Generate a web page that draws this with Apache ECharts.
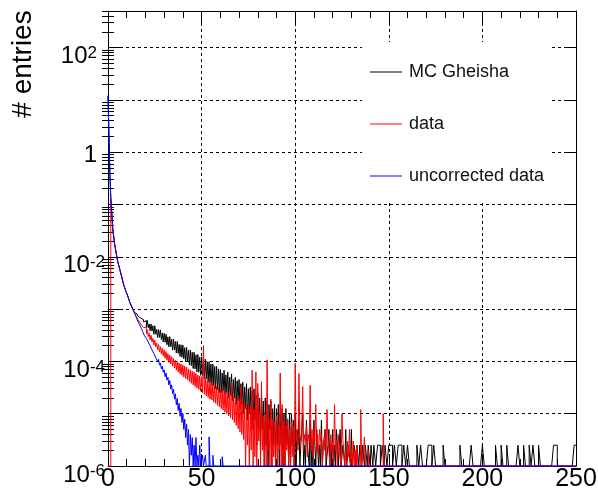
<!DOCTYPE html>
<html>
<head>
<meta charset="utf-8">
<script src="https://cdn.jsdelivr.net/npm/echarts@6/dist/echarts.min.js"></script>
<style>html,body{margin:0;padding:0;background:#fff}#c{width:598px;height:497px}</style>
</head>
<body>
<div id="c"></div>
<script>
// ---- binning ----
const FINE_BIN = 0.5;     // bins of width 0.5 from 0 to 150
const COARSE_START = 150; // bins of width 1 from 150 to 250
const COARSE_BIN = 1;
const X_END = 250;
const Y_MIN = 1e-6, Y_MAX = 500;

// ---- series values per bin (0 = empty bin, drawn on the axis floor) ----
// MC Gheisha, 0..150 in 0.5 bins
const mcFine = [12, 12, 0.4, 0.13, 0.07, 0.035, 0.025, 0.018, 0.014, 0.011,
  0.0087, 0.0074, 0.0063, 0.0054, 0.0046, 0.0039, 0.0033, 0.0028, 0.0025, 0.0022,
  0.002, 0.0018, 0.0016, 0.0014, 0.00126, 0.00115, 0.00105, 0.00096, 0.00087, 0.00086,
  0.00081, 0.0008, 0.00073, 0.00074, 0.00067, 0.00068, 0.00062, 0.00063, 0.00057, 0.00059,
  6.0e-4, 4.5e-4, 6.06e-4, 4.4e-4, 5.2e-4, 3.85e-4, 5.2e-4, 3.8e-4, 4.8e-4, 3.3e-4,
  4.8e-4, 3.3e-4, 4.1e-4, 2.85e-4, 4.05e-4, 2.87e-4, 4.0e-4, 2.63e-4, 3.5e-4, 2.36e-4,
  3.43e-4, 2.32e-4, 3.3e-4, 2.08e-4, 2.95e-4, 1.9e-4, 2.97e-4, 1.92e-4, 2.66e-4, 1.64e-4,
  2.68e-4, 1.65e-4, 2.4e-4, 1.45e-4, 2.41e-4, 1.42e-4, 2.11e-4, 1.24e-4, 2.08e-4, 1.2e-4,
  2.04e-4, 1.12e-4, 1.83e-4, 9.8e-5, 1.84e-4, 9.7e-5, 1.65e-4, 8.5e-5, 1.66e-4, 8.3e-5,
  1.49e-4, 7.3e-5, 1.5e-4, 7.2e-5, 1.34e-4, 6.3e-5, 1.35e-4, 6.2e-5, 1.21e-4, 5.4e-5,
  1.22e-4, 5.3e-5, 1.09e-4, 4.65e-5, 1.1e-4, 4.6e-5, 9.8e-5, 4.0e-5, 9.9e-5, 3.9e-5,
  8.9e-5, 3.45e-5, 8.9e-5, 3.4e-5, 8.0e-5, 3.0e-5, 8.0e-5, 2.9e-5, 7.2e-5, 2.55e-5,
  7e-5, 2.5e-5, 6e-5, 2.75e-5, 6.75e-5, 2.25e-5, 5.5e-5, 2.5e-5, 6.25e-5, 2e-5,
  5e-5, 2.25e-5, 5.75e-5, 1.75e-5, 4.5e-5, 2e-5, 5e-5, 1.5e-5, 4.25e-5, 1.75e-5,
  4.5e-5, 1.25e-5, 3.75e-5, 1.5e-5, 4e-5, 1e-5, 3.25e-5, 1.25e-5, 3.75e-5, 7.5e-6,
  3e-5, 1e-5, 3.25e-5, 7.5e-6, 2.75e-5, 5e-6, 3e-5, 7.5e-6, 2.25e-5, 2.5e-6,
  2.5e-5, 5e-6, 2e-5, 2.5e-6, 2.25e-5, 5e-6, 1.75e-5, 0, 2e-5, 2.5e-6,
  1.75e-5, 0, 1.5e-5, 5e-6, 1.75e-5, 0, 1.25e-5, 2.5e-6, 1.5e-5, 0,
  1.25e-5, 2.5e-6, 1.5e-5, 0, 1e-5, 2.5e-6, 1.25e-5, 0, 1e-5, 0,
  1.25e-5, 2.5e-6, 7.5e-6, 0, 1e-5, 0, 1e-5, 2.5e-6, 7.5e-6, 0,
  1.0e-5, 0, 5e-6, 2.5e-6, 7.5e-6, 0, 2.5e-6, 5e-6, 1.0e-5, 0,
  2.5e-6, 0, 7.5e-6, 2.5e-6, 2.5e-6, 0, 7.5e-6, 0, 2.5e-6, 0,
  7.5e-6, 2.5e-6, 0, 5e-6, 5e-6, 0, 2.5e-6, 0, 7.5e-6, 0,
  2.5e-6, 2.5e-6, 5e-6, 0, 0, 2.5e-6, 5e-6, 0, 2.5e-6, 0,
  5e-6, 0, 2.5e-6, 0, 5e-6, 2.5e-6, 0, 2.5e-6, 5e-6, 0,
  0, 2.5e-6, 2.5e-6, 0, 5e-6, 0, 0, 2.5e-6, 2.5e-6, 0,
  5e-6, 0, 0, 2.5e-6, 2.5e-6, 0, 2.5e-6, 2.5e-6, 0, 2.5e-6,
  2.5e-6, 0, 2.5e-6, 2.5e-6, 0, 2.5e-6, 2.5e-6, 0, 2.5e-6, 2.5e-6,
  0, 2.5e-6, 2.5e-6, 0, 2.5e-6, 2.5e-6, 0, 0, 2.5e-6, 2.5e-6,
  2.5e-6, 0, 0, 2.5e-6, 2.5e-6, 0, 2.5e-6, 2.5e-6, 0, 0];
// MC Gheisha, 150..250 in 1-unit bins
const mcCoarse = [2.5e-6, 2.5e-6, 0, 2.5e-6, 0, 2.5e-6, 2.5e-6, 0, 2.5e-6, 0,
  2.5e-6, 0, 0, 0, 0, 2.5e-6, 0, 2.5e-6, 0, 0,
  0, 2.5e-6, 2.5e-6, 0, 2.5e-6, 0, 0, 0, 0, 2.5e-6,
  0, 0, 0, 0, 0, 0, 0, 0, 2.5e-6, 0,
  0, 0, 0, 0, 2.5e-6, 0, 0, 0, 0, 0,
  2.5e-6, 0, 0, 0, 0, 0, 0, 2.5e-6, 0, 0,
  2.5e-6, 0, 0, 2.5e-6, 0, 0, 0, 0, 0, 2.5e-6,
  0, 0, 2.5e-6, 0, 0, 2.5e-6, 0, 2.5e-6, 0, 0,
  2.5e-6, 0, 0, 0, 0, 0, 0, 0, 2.5e-6, 2.5e-6,
  0, 0, 0, 0, 0, 0, 0, 0, 0, 2.5e-6];

// data, 0..150 in 0.5 bins
const dataFine = [0, 0, 0, 0.13, 0.07, 0.035, 0.025, 0.018, 0.014, 0.011,
  0.0087, 0.0074, 0.0063, 0.0054, 0.0046, 0.0039, 0.0033, 0.0028, 0.0025, 0.0022,
  0.002, 0.0018, 0.0016, 0.0014, 0.00126, 0.00115, 0.00105, 0.00095, 0.00087, 0.0008,
  0.00073, 0.00068, 0.00063, 0.00059, 0.00055, 0.00052, 0.00049, 0.00046, 0.00044, 0.00041,
  4.47e-4, 3.39e-4, 4.03e-4, 2.99e-4, 3.47e-4, 2.57e-4, 3.16e-4, 2.34e-4, 2.75e-4, 2.04e-4,
  2.54e-4, 1.88e-4, 2.24e-4, 1.66e-4, 2.09e-4, 1.51e-4, 1.91e-4, 1.38e-4, 1.78e-4, 1.26e-4,
  1.66e-4, 1.15e-4, 1.55e-4, 1.05e-4, 1.41e-4, 9.5e-5, 1.32e-4, 8.9e-5, 1.23e-4, 8.1e-5,
  1.14e-4, 7.5e-5, 1.05e-4, 6.8e-5, 1.0e-4, 6.3e-5, 9.3e-5, 5.75e-5, 8.9e-5, 5.4e-5,
  8.5e-5, 5.0e-5, 8.1e-5, 4.7e-5, 7.8e-5, 4.4e-5, 7.2e-5, 4.1e-5, 6.9e-5, 3.8e-5,
  6.5e-5, 3.55e-5, 6.2e-5, 3.3e-5, 5.9e-5, 3.1e-5, 5.5e-5, 2.9e-5, 5.25e-5, 2.7e-5,
  5.1e-5, 2.5e-5, 2.0e-4, 2.35e-5, 4.7e-5, 2.2e-5, 4.4e-5, 2.04e-5, 4.2e-5, 1.9e-5,
  3.9e-5, 1.82e-5, 3.7e-5, 1.66e-5, 3.55e-5, 1.58e-5, 3.3e-5, 1.45e-5, 3.16e-5, 1.35e-5,
  3.0e-5, 1.26e-5, 2.9e-5, 1.17e-5, 2.75e-5, 1.07e-5, 2.6e-5, 1.0e-5, 2.5e-5, 9.1e-6,
  2.4e-5, 8.3e-6, 3.9e-5, 7.6e-6, 2.2e-5, 6.8e-6, 2.1e-5, 6.0e-6, 2.0e-5, 5.2e-6,
  1.9e-5, 4.5e-6, 3.2e-5, 4.0e-6, 1.7e-5, 3.2e-6, 1.62e-5, 0, 1.5e-5, 2.5e-6,
  1.4e-5, 0, 1.3e-5, 2e-6, 6.8e-5, 0, 1.2e-5, 1.5e-6, 6.3e-5, 0,
  3.8e-5, 3e-6, 1.1e-5, 0, 4.1e-5, 2e-6, 9e-6, 0, 1.0e-5, 0,
  1.07e-4, 2e-6, 8e-6, 0, 1.9e-5, 0, 8e-6, 1.5e-6, 7e-6, 0,
  9e-6, 0, 6e-6, 2e-6, 6.0e-5, 0, 1.5e-5, 0, 7e-6, 0,
  6e-6, 2e-6, 8e-6, 0, 5e-6, 0, 7e-6, 1.5e-6, 6e-6, 0,
  9.3e-5, 3e-6, 4e-6, 2e-6, 5.9e-5, 4e-6, 3e-6, 5e-6, 3.3e-5, 2e-6,
  4e-6, 3e-6, 6e-6, 1.5e-6, 4e-6, 3e-6, 3.5e-5, 2e-6, 5e-6, 1.5e-6,
  5e-6, 3e-6, 1.5e-5, 2e-6, 4e-6, 1.5e-6, 5e-6, 3e-6, 4e-6, 0,
  3e-6, 2e-6, 5e-6, 1.5e-6, 1.2e-5, 3e-6, 2e-6, 0, 4e-6, 2e-6,
  3e-6, 0, 1.5e-5, 2e-6, 3e-6, 0, 4e-6, 2e-6, 2e-6, 0,
  1.0e-5, 3e-6, 3e-6, 0, 2e-6, 0, 3e-6, 1.5e-6, 5e-6, 0,
  2e-6, 0, 3e-6, 0, 2e-6, 0, 2.5e-6, 0, 0, 0,
  1.2e-5, 0, 0, 2e-6, 3.6e-6, 0, 0, 0, 2e-6, 0,
  0, 0, 0, 0, 0, 0, 0, 0, 0, 0,
  0, 0, 0, 0, 1.0e-5, 0, 0, 0, 0, 0];
const dataCoarse = [];

// uncorrected data, 0..63 in 0.5 bins (empty beyond)
const uncorrectedFine = [12, 12, 0.4, 0.13, 0.07, 0.035, 0.025, 0.018, 0.014, 0.011,
  0.0087, 0.0074, 0.0063, 0.0054, 0.0046, 0.0039, 0.0033, 0.0028, 0.0025, 0.0022,
  0.002, 0.0018, 0.0016, 0.0014, 0.00126, 0.00115, 0.00105, 0.00095, 0.00086, 0.00078,
  0.00071, 0.00064, 0.00059, 0.00053, 0.00049, 0.00045, 0.00041, 0.00037, 0.00035, 0.00031,
  3.3e-4, 2.75e-4, 2.82e-4, 2.34e-4, 2.4e-4, 2.0e-4, 2.04e-4, 1.66e-4, 1.74e-4, 1.41e-4,
  1.48e-4, 1.17e-4, 1.26e-4, 1.0e-4, 1.1e-4, 8.5e-5, 9.3e-5, 7.2e-5, 8.1e-5, 6.2e-5,
  6.9e-5, 5.1e-5, 6.0e-5, 4.4e-5, 5.0e-5, 3.55e-5, 4.3e-5, 2.95e-5, 3.55e-5, 2.4e-5,
  2.95e-5, 1.9e-5, 2.4e-5, 1.48e-5, 1.95e-5, 1.15e-5, 1.58e-5, 8.9e-6, 1.26e-5, 6.8e-6,
  1.0e-5, 5.0e-6, 7.9e-6, 3.5e-6, 6.3e-6, 2.5e-6, 5.0e-6, 0, 4.0e-6, 1.6e-6,
  3.5e-6, 0, 2.5e-6, 0, 3.5e-6, 0, 1.6e-6, 0, 2.5e-6, 0,
  0, 1.6e-6, 0, 0, 1.6e-6, 0, 0, 0, 3.6e-6, 0,
  0, 0, 1.6e-6, 0, 0, 0, 0, 0, 0, 0,
  0, 0, 1.5e-6, 0, 0, 0];
const uncorrectedCoarse = [];

// ---- axis ticks / labels ----
const xTickLabels = [0, 50, 100, 150, 200, 250];
const yDecades = [1e-6, 1e-5, 1e-4, 1e-3, 1e-2, 1e-1, 1, 10, 100];
const yLabelValues = [1e-6, 1e-4, 1e-2, 1, 100];
const yMinorTicks = [];
yDecades.forEach(d => { for (let m = 2; m <= 9; m++) { const v = +(m * d).toPrecision(3); if (v <= Y_MAX) yMinorTicks.push(v); } });

const seriesNames = ['MC Gheisha', 'data', 'uncorrected data'];
const seriesColors = ['#000000', '#ff0000', '#0000ff'];

// histogram -> step points; bins not listed are empty (sit on the axis floor)
function buildPoints(fine, coarse) {
  const pts = [];
  const nFine = Math.round(COARSE_START / FINE_BIN);
  for (let k = 0; k < nFine; k++) {
    const v = k < fine.length ? fine[k] : 0;
    pts.push([k * FINE_BIN, v > 0 ? v : Y_MIN]);
  }
  const nCoarse = Math.round((X_END - COARSE_START) / COARSE_BIN);
  for (let i = 0; i < nCoarse; i++) {
    const v = i < coarse.length ? coarse[i] : 0;
    pts.push([COARSE_START + i * COARSE_BIN, v > 0 ? v : Y_MIN]);
  }
  pts.push([X_END, pts[pts.length - 1][1]]);
  return pts;
}

const FONT = 'Liberation Sans';
const chart = echarts.init(document.getElementById('c'), null, { renderer: 'canvas' });
const logAxisBase = { type: 'log', logBase: 10, min: Y_MIN, max: Y_MAX, splitNumber: 10, gridIndex: 0 };

const option = {
  animation: false,
  backgroundColor: '#ffffff',
  grid: { left: 108, right: 22, top: 11, bottom: 31, containLabel: false, outerBoundsMode: 'none' },
  graphic: [{
    type: 'text', x: 23, y: 64, rotation: Math.PI / 2, z: 10,
    style: { text: '# entries', font: '28px "' + FONT + '"', fill: '#000', align: 'center', verticalAlign: 'middle' }
  }],
  legend: {
    orient: 'vertical', left: 362, top: 42,
    padding: [21, 6, 17, 8],
    icon: 'rect',
    itemWidth: 32, itemHeight: 1, itemGap: 34,
    backgroundColor: '#ffffff',
    selectedMode: false,
    textStyle: { fontFamily: FONT, fontSize: 18, color: '#111', padding: [0, 0, 0, 2] },
    data: seriesNames
  },
  xAxis: [{
    type: 'value', min: 0, max: X_END, interval: 50, position: 'bottom',
    axisLine: { show: true, onZero: false, lineStyle: { color: '#000', width: 1 } },
    axisTick: { show: true, inside: true, length: 12, lineStyle: { color: '#000' } },
    minorTick: { show: true, splitNumber: 5, length: 7, lineStyle: { color: '#000' } },
    axisLabel: { show: true, fontFamily: FONT, fontSize: 25, color: '#000', margin: 1,
      customValues: xTickLabels, formatter: v => String(v) },
    splitLine: { show: true, lineStyle: { color: '#000', width: 1, type: [3, 3] } }
  }, {
    type: 'value', min: 0, max: X_END, interval: 50, position: 'top',
    axisLine: { show: true, onZero: false, lineStyle: { color: '#000', width: 1 } },
    axisTick: { show: true, inside: true, length: 12, lineStyle: { color: '#000' } },
    minorTick: { show: true, splitNumber: 5, length: 7, lineStyle: { color: '#000' } },
    axisLabel: { show: false },
    splitLine: { show: false }
  }],
  yAxis: [Object.assign({}, logAxisBase, {
    position: 'left',
    axisLine: { show: true, onZero: false, lineStyle: { color: '#000', width: 1 } },
    axisTick: { show: true, inside: true, length: 12, customValues: yDecades, lineStyle: { color: '#000' } },
    axisLabel: {
      show: true, customValues: yLabelValues, margin: 3, color: '#000', fontFamily: FONT,
      formatter: v => {
        const e = Math.round(Math.log10(v));
        if (e === 0) return '{one|1}';
        if (e > 0) return '{b|10}{sp|' + e + '}';
        return '{b|10}{s|' + e + '}';
      },
      rich: {
        b: { fontSize: 24, fontFamily: FONT, color: '#000', padding: [18, 0, 0, 0] },
        s: { fontSize: 17, fontFamily: FONT, color: '#000', verticalAlign: 'top', padding: [18, 0, 0, 0] },
        sp: { fontSize: 17, fontFamily: FONT, color: '#000', verticalAlign: 'top', padding: [18, 8, 0, 0] },
        one: { fontSize: 24, fontFamily: FONT, color: '#000', padding: [6, 8, 0, 0] }
      }
    },
    splitLine: { show: true, lineStyle: { color: '#000', width: 1, type: [3, 3] } }
  }), Object.assign({}, logAxisBase, {
    position: 'left',
    axisLine: { show: false },
    axisTick: { show: true, inside: true, length: 6, customValues: yMinorTicks, lineStyle: { color: '#000' } },
    axisLabel: { show: false },
    splitLine: { show: false }
  }), Object.assign({}, logAxisBase, {
    position: 'right',
    axisLine: { show: true, onZero: false, lineStyle: { color: '#000', width: 1 } },
    axisTick: { show: true, inside: true, length: 12, customValues: yDecades, lineStyle: { color: '#000' } },
    axisLabel: { show: false },
    splitLine: { show: false }
  }), Object.assign({}, logAxisBase, {
    position: 'right',
    axisLine: { show: false },
    axisTick: { show: true, inside: true, length: 6, customValues: yMinorTicks, lineStyle: { color: '#000' } },
    axisLabel: { show: false },
    splitLine: { show: false }
  })],
  series: [
    [mcFine, mcCoarse], [dataFine, dataCoarse], [uncorrectedFine, uncorrectedCoarse]
  ].map((fc, i) => ({
    name: seriesNames[i], type: 'line', step: 'end', symbol: 'none', showSymbol: false,
    xAxisIndex: 0, yAxisIndex: 0, clip: false,
    lineStyle: { color: seriesColors[i], width: 1 },
    itemStyle: { color: seriesColors[i] },
    emphasis: { disabled: true },
    data: buildPoints(fc[0], fc[1])
  }))
};
chart.setOption(option);
</script>
</body>
</html>
